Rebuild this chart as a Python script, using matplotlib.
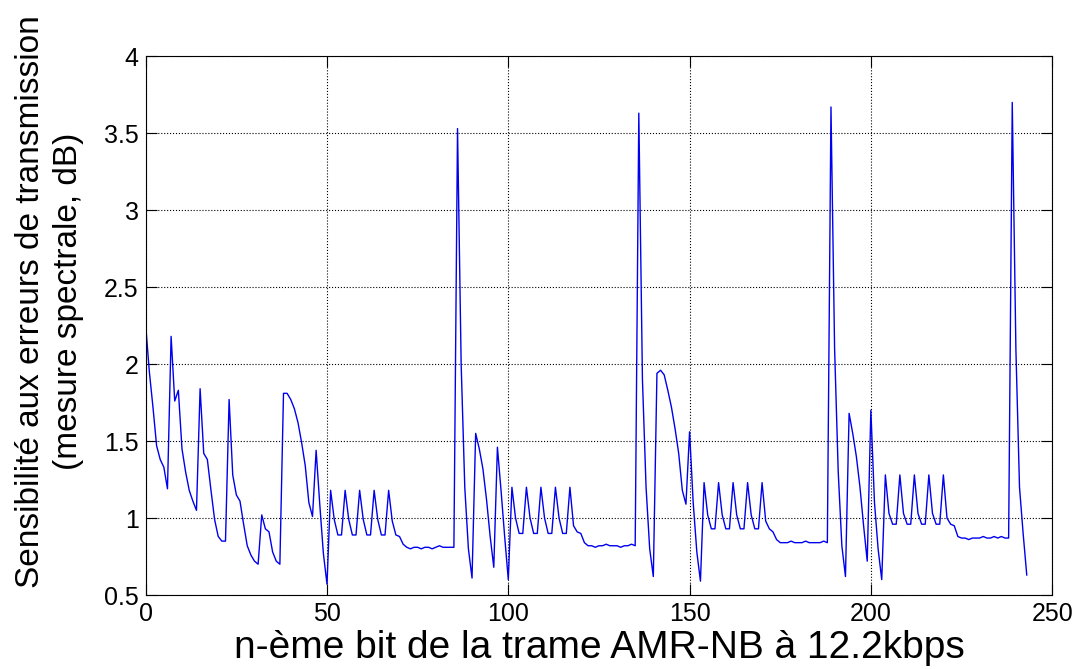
import matplotlib
matplotlib.use('Agg')
import matplotlib.pyplot as plt
from matplotlib.ticker import FormatStrFormatter

plt.rcParams['font.family'] = ['Liberation Sans', 'DejaVu Sans']

# LSF bits (0-37)
lsf = [2.25, 1.95, 1.72, 1.47, 1.38, 1.33, 1.19,
       2.18, 1.76, 1.83, 1.45, 1.30, 1.18, 1.11, 1.05,
       1.84, 1.42, 1.38, 1.18, 0.99, 0.88, 0.85, 0.85,
       1.77, 1.28, 1.15, 1.11, 0.96, 0.82, 0.76, 0.72, 0.70,
       1.02, 0.93, 0.91, 0.78, 0.72, 0.70]

# subframe 1 (38-90)
lag1 = [1.81, 1.81, 1.77, 1.71, 1.62, 1.49, 1.34, 1.10, 1.01]
gain1 = [1.44, 1.09, 0.77, 0.57]
code1 = [1.18, 0.99, 0.89, 0.89, 1.18, 0.99, 0.89, 0.89, 1.18, 0.99, 0.89, 0.89,
         1.18, 0.99, 0.89, 0.89, 1.18, 0.98, 0.89, 0.88,
         0.83, 0.81, 0.80, 0.81, 0.81, 0.80, 0.81, 0.81, 0.80, 0.81, 0.82, 0.81, 0.81, 0.81, 0.81]
fgain1 = [3.53, 2.00, 1.20, 0.80, 0.61]

# subframe 2 (91-140)
lag2 = [1.55, 1.45, 1.32, 1.12, 0.88, 0.68]
gain2 = [1.46, 1.18, 0.88, 0.60]
code2 = [1.20, 1.00, 0.90, 0.90, 1.20, 1.00, 0.90, 0.90, 1.20, 1.00, 0.90, 0.90,
         1.20, 1.00, 0.90, 0.90, 1.20, 0.95, 0.91, 0.90,
         0.84, 0.82, 0.82, 0.81, 0.82, 0.82, 0.83, 0.82, 0.82, 0.82, 0.81, 0.82, 0.82, 0.83, 0.82]
fgain2 = [3.63, 1.90, 1.20, 0.80, 0.62]

# subframe 3 (141-193)
lag3 = [1.94, 1.96, 1.93, 1.83, 1.72, 1.58, 1.42, 1.18, 1.09]
gain3 = [1.56, 1.10, 0.78, 0.59]
code3 = [1.23, 1.02, 0.93, 0.93, 1.23, 1.02, 0.93, 0.93, 1.23, 1.02, 0.93, 0.93,
         1.23, 1.02, 0.93, 0.93, 1.23, 0.98, 0.93, 0.91,
         0.86, 0.84, 0.84, 0.84, 0.85, 0.84, 0.84, 0.84, 0.85, 0.84, 0.84, 0.84, 0.84, 0.85, 0.84]
fgain3 = [3.67, 2.10, 1.30, 0.82, 0.62]

# subframe 4 (194-243)
lag4 = [1.68, 1.55, 1.40, 1.20, 0.95, 0.72]
gain4 = [1.70, 1.10, 0.80, 0.60]
code4 = [1.28, 1.03, 0.96, 0.96, 1.28, 1.03, 0.96, 0.96, 1.28, 1.03, 0.96, 0.96,
         1.28, 1.03, 0.96, 0.96, 1.28, 1.00, 0.96, 0.95,
         0.88, 0.87, 0.87, 0.86, 0.87, 0.87, 0.87, 0.88, 0.87, 0.87, 0.88, 0.87, 0.88, 0.87, 0.87]
fgain4 = [3.70, 2.10, 1.20, 0.90, 0.63]

sens = (lsf + lag1 + gain1 + code1 + fgain1 + lag2 + gain2 + code2 + fgain2
        + lag3 + gain3 + code3 + fgain3 + lag4 + gain4 + code4 + fgain4)
bits = list(range(len(sens)))

fig = plt.figure(figsize=(10.81, 6.69), dpi=100)
ax = fig.add_axes([0.1348, 0.1106, 0.8385, 0.8054])

ax.plot(bits, sens, color='#0000ee', linewidth=1.0)

ax.set_xlim(0, 250)
ax.set_ylim(0.5, 4)
ax.set_xticks([0, 50, 100, 150, 200, 250])
ax.set_yticks([0.5, 1, 1.5, 2, 2.5, 3, 3.5, 4])
ax.yaxis.set_major_formatter(FormatStrFormatter('%g'))
ax.grid(True, color='k', linestyle=':', linewidth=0.8)
ax.tick_params(direction='in', length=8, width=0.8, top=True, right=True,
               labelsize=18, pad=5)
for s in ax.spines.values():
    s.set_linewidth(0.8)

ax.set_xlabel('n-ème bit de la trame AMR-NB à 12.2kbps', fontsize=28, labelpad=3)
ax.set_ylabel('Sensibilité aux erreurs de transmission\n(mesure spectrale, dB)',
              fontsize=24, linespacing=1.3)
ax.yaxis.set_label_coords(-0.068, 0.545)

fig.savefig('out.png', dpi=100)
